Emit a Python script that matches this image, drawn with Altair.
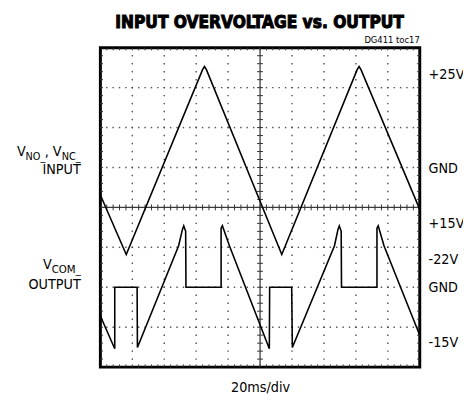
import altair as alt
import pandas as pd

# ---- data (oscilloscope divisions: x 0..10, y 0..8) ----
in_x = [0.00, 0.81, 3.20, 3.26, 3.32, 5.68, 8.04, 8.10, 8.16, 10.00]
in_y = [4.31, 2.82, 7.45, 7.53, 7.45, 2.82, 7.45, 7.53, 7.45, 3.95]

out_x = [0.00, 0.45, 0.45, 1.15, 1.16, 2.45, 2.57, 2.61, 2.67, 2.68, 3.78, 3.78,
         3.82, 4.04, 5.29, 5.30, 5.99, 6.01, 7.33, 7.44, 7.48, 7.54, 7.55, 8.66,
         8.66, 8.70, 8.88, 10.00]
out_y = [1.28, 0.46, 2.00, 2.00, 0.49, 3.04, 3.45, 3.54, 3.40, 2.00, 2.00, 3.48,
         3.54, 3.04, 0.46, 2.00, 2.00, 0.49, 3.04, 3.45, 3.54, 3.40, 2.00, 2.00,
         3.48, 3.54, 3.04, 0.80]

right_labels = ["+25V", "GND", "+15V", "-22V", "GND", "-15V"]
right_levels = [7.31, 4.95, 3.58, 2.69, 1.98, 0.60]

NARROW = "DejaVu Sans Condensed, Liberation Sans, sans-serif"

xs = alt.Scale(domain=[0, 10], nice=False, zero=False)
ys = alt.Scale(domain=[0, 8], nice=False, zero=False)

minor_x = [round(i * 0.2, 2) for i in range(0, 51)]
minor_y = [round(i * 0.2, 2) for i in range(0, 41)]

# dotted grid (dots at minor positions)
dots = []
for gy in [1, 2, 3, 5, 6, 7]:
    for mx in minor_x[1:-1]:
        dots.append({"x": mx, "y": gy})
for gx in [1, 2, 3, 4, 6, 7, 8, 9]:
    for my in minor_y[1:-1]:
        dots.append({"x": gx, "y": my})
dots_df = pd.DataFrame(dots)

# ticks: center axes and borders
tk = []
hx = 3 / 32.5  # 3px in x-div
hy = 3 / 40.7  # 3px in y-div
for mx in minor_x[1:-1]:
    tk.append({"x": mx, "x2": mx, "y": 4 - hy, "y2": 4 + hy})
    tk.append({"x": mx, "x2": mx, "y": 8, "y2": 8 - hy * 0.9})
    tk.append({"x": mx, "x2": mx, "y": 0, "y2": hy * 0.9})
for my in minor_y[1:-1]:
    tk.append({"x": 5 - hx, "x2": 5 + hx, "y": my, "y2": my})
    tk.append({"x": 0, "x2": hx * 0.9, "y": my, "y2": my})
    tk.append({"x": 10, "x2": 10 - hx * 0.9, "y": my, "y2": my})
tk_df = pd.DataFrame(tk)

axes_df = pd.DataFrame([
    {"x": 0, "x2": 10, "y": 4, "y2": 4},
    {"x": 5, "x2": 5, "y": 0, "y2": 8},
])

in_df = pd.DataFrame({"x": in_x, "y": in_y, "o": range(len(in_x))})
out_df = pd.DataFrame({"x": out_x, "y": out_y, "o": range(len(out_x))})
lab_df = pd.DataFrame({"lab": right_labels, "lvl": right_levels})
one = pd.DataFrame({"a": [0]})

grid = alt.Chart(dots_df).mark_square(size=2.2, color="#3a3a3a", opacity=0.85).encode(
    x=alt.X("x:Q", scale=xs, axis=None), y=alt.Y("y:Q", scale=ys, axis=None))

axes = alt.Chart(axes_df).mark_rule(color="#3c3c3c", strokeWidth=1.3).encode(
    x=alt.X("x:Q", scale=xs, axis=None), x2="x2:Q",
    y=alt.Y("y:Q", scale=ys, axis=None), y2="y2:Q")

ticks = alt.Chart(tk_df).mark_rule(color="#333333", strokeWidth=1).encode(
    x=alt.X("x:Q", scale=xs, axis=None), x2="x2:Q",
    y=alt.Y("y:Q", scale=ys, axis=None), y2="y2:Q")

line_in = alt.Chart(in_df).mark_line(color="black", strokeWidth=1.6).encode(
    x=alt.X("x:Q", scale=xs, axis=None), y=alt.Y("y:Q", scale=ys, axis=None), order="o:Q")

line_out = alt.Chart(out_df).mark_line(color="black", strokeWidth=1.6).encode(
    x=alt.X("x:Q", scale=xs, axis=None), y=alt.Y("y:Q", scale=ys, axis=None), order="o:Q")

rlabels = alt.Chart(lab_df).mark_text(align="left", baseline="middle", fontSize=14.5,
                                      font=NARROW, color="black").encode(
    x=alt.value(334), y=alt.Y("lvl:Q", scale=ys, axis=None), text="lab:N")


def txt(s, x, y, size, align="left", weight="normal", stroke=None, sw=0.0):
    kw = dict(text=s, align=align, baseline="alphabetic", fontSize=size,
              fontWeight=weight, font=NARROW, color="black")
    if stroke:
        kw["stroke"] = stroke
        kw["strokeWidth"] = sw
    return alt.Chart(one).mark_text(**kw).encode(x=alt.value(x), y=alt.value(y))


texts = [
    txt("INPUT OVERVOLTAGE vs. OUTPUT", 162, -20, 17.5, align="center", weight="bold",
        stroke="black", sw=1.0),
    txt("DG411 toc17", 325, -5, 9.5, align="right"),
    txt("20ms/div", 163, 350, 14.5, align="center"),
    # V_NO_, V_NC_ / INPUT
    txt("NC_", -20, 114, 11, align="right"),
    txt("V", -39.5, 110, 14.5, align="right"),
    txt(",", -52.5, 110, 14.5, align="right"),
    txt("NO_", -56, 114, 11, align="right"),
    txt("V", -76, 110, 14.5, align="right"),
    txt("INPUT", -20, 129, 14.5, align="right"),
    # V_COM_ / OUTPUT
    txt("COM_", -20, 229, 11.5, align="right"),
    txt("V", -49.5, 225, 14.5, align="right"),
    txt("OUTPUT", -20, 246, 14.5, align="right"),
]

chart = alt.layer(grid, axes, ticks, line_in, line_out, rlabels, *texts).properties(
    width=325, height=325,
    padding={"left": 94, "top": 37, "right": 44, "bottom": 27},
    autosize=alt.AutoSizeParams(type="none"),
).configure_view(stroke="black", strokeWidth=3)

chart.save("out.html", embed_options={"renderer": "svg", "actions": False})
